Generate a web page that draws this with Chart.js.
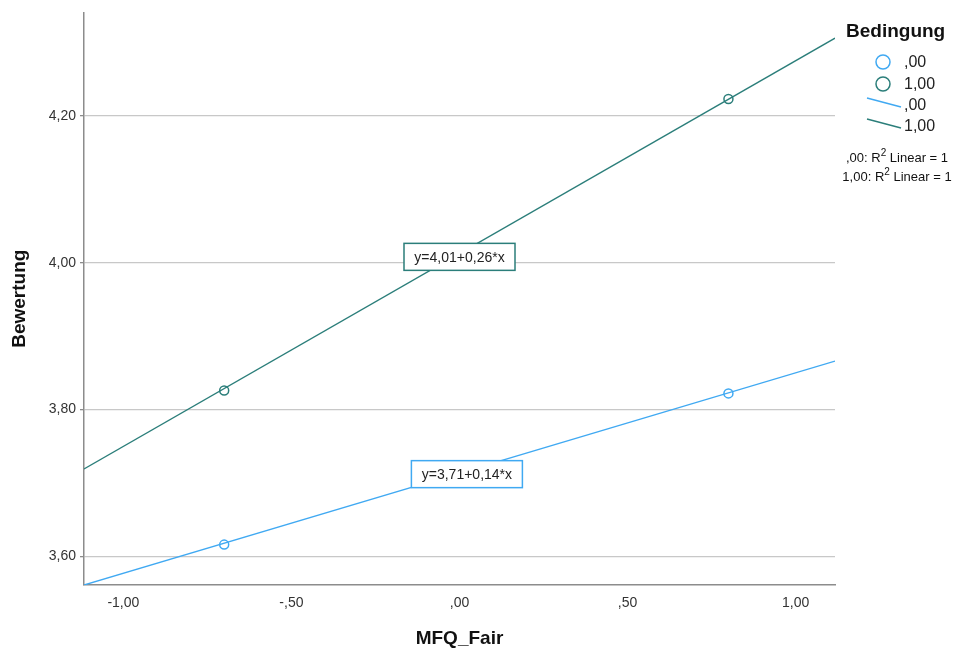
<!DOCTYPE html>
<html>
<head>
<meta charset="utf-8">
<script src="https://cdn.jsdelivr.net/npm/chart.js@4/dist/chart.umd.min.js"></script>
<style>
  html, body { margin: 0; padding: 0; background: #fff; }
  #wrap { width: 959px; height: 653px; position: relative; }
</style>
</head>
<body>
<div id="wrap"><canvas id="myChart"></canvas></div>
<script>
// values
const groupNames = [',00', '1,00'];
const groupColors = ['#40a9f2', '#2b7e7a'];
const xPoints = [-0.70, 0.80];
const yGroup0 = [3.616, 3.822];
const yGroup1 = [3.826, 4.223];
// fit lines, read at the left and right edge of the plot
const fitX = [-1.117, 1.117];
const fitGroup0 = [3.561, 3.866];
const fitGroup1 = [3.719, 4.306];
const fitLabels = ['y=3,71+0,14*x', 'y=4,01+0,26*x'];
const fitLabelPos = [[0.022, 3.712], [0.0, 4.008]];

const xTicks = [-1.0, -0.5, 0.0, 0.5, 1.0];
const xTickLabels = ['-1,00', '-,50', ',00', ',50', '1,00'];
const yTicks = [3.6, 3.8, 4.0, 4.2];
const yTickLabels = ['3,60', '3,80', '4,00', '4,20'];

const FONT = 'Arial, "Liberation Sans", sans-serif';

function pts(xs, ys) {
  return xs.map((x, i) => ({x: x, y: ys[i]}));
}

const data = {
  datasets: [
    {
      type: 'line', label: 'fit0', data: pts(fitX, fitGroup0),
      borderColor: groupColors[0], borderWidth: 1.4, pointRadius: 0, fill: false
    },
    {
      type: 'line', label: 'fit1', data: pts(fitX, fitGroup1),
      borderColor: groupColors[1], borderWidth: 1.4, pointRadius: 0, fill: false
    },
    {
      type: 'scatter', label: groupNames[0], data: pts(xPoints, yGroup0),
      borderColor: groupColors[0], backgroundColor: 'rgba(0,0,0,0)',
      pointRadius: 4.5, pointBorderWidth: 1.5
    },
    {
      type: 'scatter', label: groupNames[1], data: pts(xPoints, yGroup1),
      borderColor: groupColors[1], backgroundColor: 'rgba(0,0,0,0)',
      pointRadius: 4.5, pointBorderWidth: 1.5
    }
  ]
};

// equation boxes + legend on the right
const extras = {
  id: 'extras',
  afterDatasetsDraw(chart) {
    const ctx = chart.ctx;
    const xs = chart.scales.x, ys = chart.scales.y;
    ctx.save();
    ctx.font = '14px ' + FONT;
    ctx.textBaseline = 'middle';
    ctx.textAlign = 'center';
    fitLabels.forEach((t, i) => {
      const cx = xs.getPixelForValue(fitLabelPos[i][0]);
      const cy = ys.getPixelForValue(fitLabelPos[i][1]);
      const w = 111, h = 27;
      ctx.fillStyle = '#fff';
      ctx.fillRect(cx - w / 2, cy - h / 2, w, h);
      ctx.strokeStyle = groupColors[i];
      ctx.lineWidth = 1.5;
      ctx.strokeRect(cx - w / 2, cy - h / 2, w, h);
      ctx.fillStyle = '#222';
      ctx.fillText(t, cx, cy + 1);
    });
    ctx.restore();

    // legend
    ctx.save();
    ctx.fillStyle = '#111';
    ctx.textBaseline = 'middle';
    ctx.textAlign = 'left';
    ctx.font = 'bold 19px ' + FONT;
    ctx.fillText('Bedingung', 846, 32);
    ctx.font = '16px ' + FONT;
    ctx.fillStyle = '#222';
    groupNames.forEach((g, i) => {
      const y = 62 + i * 22;
      ctx.beginPath();
      ctx.arc(883, y, 7, 0, Math.PI * 2);
      ctx.strokeStyle = groupColors[i];
      ctx.lineWidth = 1.5;
      ctx.stroke();
      ctx.fillText(g, 904, y + 1);
    });
    groupNames.forEach((g, i) => {
      const y = 106 + i * 21;
      ctx.beginPath();
      ctx.moveTo(867, y - 8);
      ctx.lineTo(901, y + 1);
      ctx.strokeStyle = groupColors[i];
      ctx.lineWidth = 1.4;
      ctx.stroke();
      ctx.fillText(g, 904, y);
    });
    ctx.font = '13px ' + FONT;
    ctx.fillStyle = '#111';
    groupNames.forEach((g, i) => {
      const y = 158 + i * 19;
      const a = g + ': R', b = ' Linear = 1';
      const wa = ctx.measureText(a).width, wb = ctx.measureText(b).width;
      ctx.font = '10px ' + FONT;
      const ws = ctx.measureText('2').width;
      ctx.font = '13px ' + FONT;
      const x0 = 897 - (wa + ws + wb) / 2;
      ctx.fillText(a, x0, y);
      ctx.font = '10px ' + FONT;
      ctx.fillText('2', x0 + wa, y - 5);
      ctx.font = '13px ' + FONT;
      ctx.fillText(b, x0 + wa + ws, y);
    });
    ctx.restore();
  }
};

const config = {
  data: data,
  options: {
    responsive: true,
    maintainAspectRatio: false,
    animation: false,
    layout: { padding: { left: 0, right: 124, top: 10, bottom: 0 } },
    plugins: { legend: { display: false }, tooltip: { enabled: false } },
    scales: {
      x: {
        type: 'linear', min: -1.117, max: 1.117,
        afterFit(s) { s.height = 68; },
        afterBuildTicks(s) { s.ticks = xTicks.map(v => ({value: v})); },
        ticks: {
          color: '#333', font: { family: FONT, size: 14 }, padding: 10,
          maxRotation: 0, autoSkip: false,
          callback: (v) => xTickLabels[xTicks.indexOf(v)]
        },
        grid: { display: false, drawTicks: false },
        border: { display: true, color: '#8c8c8c', width: 1.5 },
        title: {
          display: true, text: 'MFQ_Fair', color: '#111',
          font: { family: FONT, size: 19, weight: 'bold' },
          padding: { top: 0, bottom: 3 }
        }
      },
      y: {
        type: 'linear', min: 3.561, max: 4.341,
        afterFit(s) { s.width = 84; },
        afterBuildTicks(s) { s.ticks = yTicks.map(v => ({value: v})); },
        ticks: {
          color: '#333', font: { family: FONT, size: 14 }, padding: 4,
          callback: (v) => yTickLabels[yTicks.indexOf(v)]
        },
        grid: { color: '#c8c8c8', lineWidth: 1.3, tickLength: 4, tickColor: '#8c8c8c' },
        border: { display: true, color: '#8c8c8c', width: 1.5 },
        title: {
          display: true, text: 'Bewertung', color: '#111',
          font: { family: FONT, size: 19, weight: 'bold' },
          padding: { top: 8, bottom: 0 }
        }
      }
    }
  },
  plugins: [extras]
};

const myChart = new Chart(document.getElementById('myChart'), config);
</script>
</body>
</html>
